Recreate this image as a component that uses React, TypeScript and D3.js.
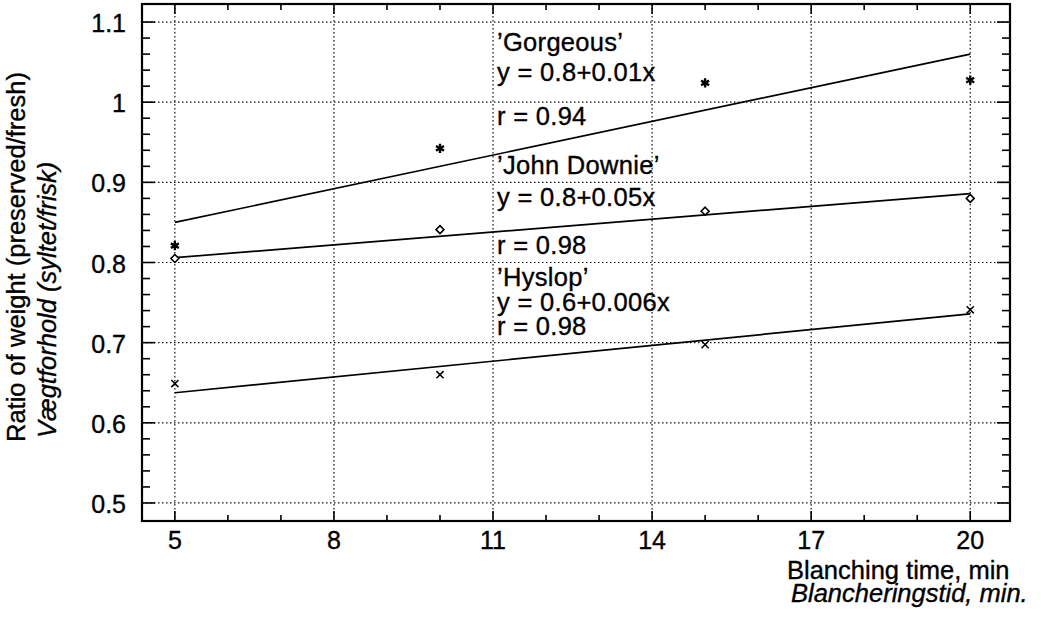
import * as d3 from "d3";
import React from "react";
import { useRef, useEffect } from "react";

// blanching time (min)
const times = [5, 10, 15, 20];
// ratio of weight
const gorgeous = [0.821, 0.9425, 1.024, 1.0275];
const johnDownie = [0.805, 0.841, 0.864, 0.88];
const hyslop = [0.649, 0.66, 0.6975, 0.741];
// fitted lines, value at x = 5 and x = 20
const fitX = [5, 20];
const gorgeousFit = [0.85, 1.06];
const johnDownieFit = [0.806, 0.886];
const hyslopFit = [0.6375, 0.736];

const xTicks = [5, 8, 11, 14, 17, 20];
const yTicks = [0.5, 0.6, 0.7, 0.8, 0.9, 1, 1.1];
const yTickLabels = ["0.5", "0.6", "0.7", "0.8", "0.9", "1", "1.1"];

// annotation lines and the y value of their baselines
const noteText = [
  "\u2019Gorgeous\u2019",
  "y = 0.8+0.01x",
  "r = 0.94",
  "\u2019John Downie\u2019",
  "y = 0.8+0.05x",
  "r = 0.98",
  "\u2019Hyslop\u2019",
  "y = 0.6+0.006x",
  "r = 0.98",
];
const noteY = [1.0635, 1.026, 0.972, 0.91, 0.871, 0.81, 0.771, 0.739, 0.71];

const FONT = "'Liberation Sans', Arial, Helvetica, sans-serif";

export default function App() {
  const ref = useRef(null);
  const width = 1041;
  const height = 622;
  const margin = { left: 142, right: 31, top: 4, bottom: 101 };

  useEffect(() => {
    const svg = d3.select(ref.current);
    svg.selectAll("*").remove();
    svg.attr("width", width).attr("height", height).style("font-family", FONT);

    const x = d3.scaleLinear().domain([4.38, 20.75]).range([margin.left, width - margin.right]);
    const y = d3.scaleLinear().domain([0.4775, 1.1225]).range([height - margin.bottom, margin.top]);
    const [x0, x1] = x.range();
    const [y0, y1] = y.range();

    // dotted grid
    const grid = svg.append("g").attr("stroke", "#111").attr("stroke-width", 1.2).attr("stroke-dasharray", "1.5,2.5");
    grid.selectAll("line.gx").data(xTicks).enter().append("line")
      .attr("x1", (d) => x(d)).attr("x2", (d) => x(d)).attr("y1", y1).attr("y2", y0);
    grid.selectAll("line.gy").data(yTicks).enter().append("line")
      .attr("y1", (d) => y(d)).attr("y2", (d) => y(d)).attr("x1", x0).attr("x2", x1);

    // ticks, pointing inward on all four sides
    const ticks = svg.append("g").attr("stroke", "#000").attr("stroke-width", 1.6);
    const xMinor = d3.range(5, 21, 1);
    const yMinor = d3.range(0, 31).map((i) => 0.5 + i * 0.02);
    xMinor.forEach((t) => {
      const len = xTicks.includes(t) ? 10 : 6;
      ticks.append("line").attr("x1", x(t)).attr("x2", x(t)).attr("y1", y0).attr("y2", y0 - len);
      ticks.append("line").attr("x1", x(t)).attr("x2", x(t)).attr("y1", y1).attr("y2", y1 + len);
    });
    yMinor.forEach((t, i) => {
      const len = i % 5 === 0 ? 13 : 8;
      ticks.append("line").attr("y1", y(t)).attr("y2", y(t)).attr("x1", x0).attr("x2", x0 + len);
      ticks.append("line").attr("y1", y(t)).attr("y2", y(t)).attr("x1", x1).attr("x2", x1 - len);
    });

    // frame
    svg.append("rect")
      .attr("x", x0).attr("y", y1).attr("width", x1 - x0).attr("height", y0 - y1)
      .attr("fill", "none").attr("stroke", "#000").attr("stroke-width", 2.2);

    // all text a bit heavier, like the printed figure
    const ink = (sel) => sel.attr("fill", "#000").attr("stroke", "#000").attr("stroke-width", 0.35);

    // tick labels
    svg.append("g").call(ink).selectAll("text").data(xTicks).enter().append("text")
      .attr("x", (d) => x(d)).attr("y", 549)
      .attr("text-anchor", "middle").attr("font-size", 25)
      .text((d) => d);
    svg.append("g").call(ink).selectAll("text").data(yTicks).enter().append("text")
      .attr("x", 126).attr("y", (d) => y(d) + 1)
      .attr("text-anchor", "end").attr("dominant-baseline", "central").attr("font-size", 25)
      .text((d, i) => yTickLabels[i]);

    // regression lines
    const line = d3.line().x((d) => x(d[0])).y((d) => y(d[1]));
    [gorgeousFit, johnDownieFit, hyslopFit].forEach((fit) => {
      svg.append("path")
        .attr("d", line(fitX.map((t, i) => [t, fit[i]])))
        .attr("fill", "none").attr("stroke", "#000").attr("stroke-width", 1.7);
    });

    // markers
    const series = [
      { values: gorgeous, symbol: d3.symbolAsterisk, size: 60, sw: 2.4 },
      { values: johnDownie, symbol: d3.symbolDiamond2, size: 40, sw: 1.6 },
      { values: hyslop, symbol: d3.symbolTimes, size: 35, sw: 1.5 },
    ];
    series.forEach((s) => {
      svg.append("g").selectAll("path").data(s.values).enter().append("path")
        .attr("transform", (d, i) => `translate(${x(times[i])},${y(d)})`)
        .attr("d", d3.symbol().type(s.symbol).size(s.size))
        .attr("fill", s.symbol === d3.symbolDiamond2 ? "#fff" : "none")
        .attr("stroke", "#000").attr("stroke-width", s.sw);
    });

    // annotations
    svg.append("g").call(ink).selectAll("text").data(noteText).enter().append("text")
      .attr("x", x(11) + 4).attr("y", (d, i) => y(noteY[i]))
      .attr("font-size", 25.5).attr("letter-spacing", 0.3)
      .text((d) => d);

    // axis titles
    const titles = svg.append("g").call(ink).attr("font-size", 25.5);
    titles.append("text").attr("x", 787).attr("y", 579).text("Blanching time, min");
    titles.append("text").attr("x", 791).attr("y", 602).attr("font-style", "italic")
      .text("Blancheringstid, min.");
    titles.append("text").attr("transform", "translate(25,442) rotate(-90)")
      .text("Ratio of weight (preserved/fresh)");
    titles.append("text").attr("transform", "translate(56,438) rotate(-90)")
      .attr("font-style", "italic").text("Vægtforhold (syltet/frisk)");
  }, []);

  return (
    <svg ref={ref} style={{ position: "absolute", left: 0, top: 0, background: "#fff" }} />
  );
}
